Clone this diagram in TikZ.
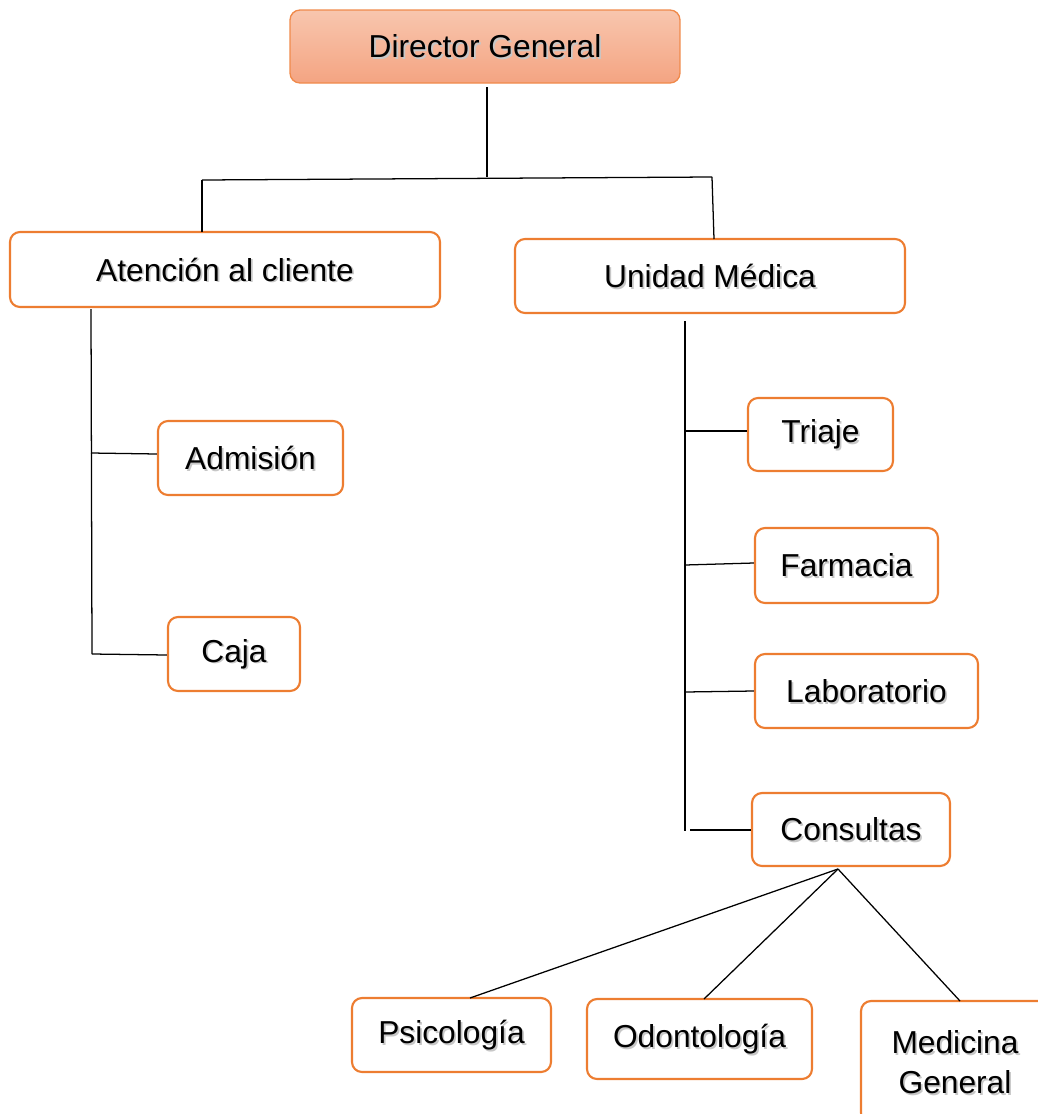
\documentclass[tikz,border=0pt]{standalone}
\usepackage{fontspec}
\setmainfont{Liberation Sans}
\usetikzlibrary{calc}
\definecolor{boxline}{HTML}{ED7D31}
\definecolor{headline}{HTML}{F08A4B}
\definecolor{headtop}{HTML}{F8C6AE}
\definecolor{headbot}{HTML}{F4A482}
\tikzset{
  % rounded box with a soft shadow behind its label
  unit/.style={draw=boxline, line width=1.6pt, rounded corners=7.5pt, fill=white,
    inner sep=0pt, align=center, font=\fontsize{23.8}{30}\selectfont,
    node contents={#1},
    path picture={\node[text=black!22, align=center, font=\fontsize{23.8}{30}\selectfont]
      at ([shift={(1.3pt,-1.3pt)}]path picture bounding box.center) {#1};}},
  head/.style={unit={#1}, draw=headline, line width=1pt,
    top color=headtop, bottom color=headbot},
  link/.style={line width=0.95pt, black},
}
\begin{document}
\begin{tikzpicture}[x=0.75pt, y=-0.75pt]
\useasboundingbox (0,0) rectangle (1038,1114);

% boxes
\node (dg)  at (485,46.5)  [head={Director General}, minimum width=390*0.75pt, minimum height=73*0.75pt];
\node (ac)  at (225,269.5) [unit={Atención al cliente}, minimum width=430*0.75pt, minimum height=75*0.75pt];
\node (um)  at (710,276)   [unit={Unidad Médica}, minimum width=390*0.75pt, minimum height=74*0.75pt];
\node (adm) at (250.5,458) [unit={Admisión}, minimum width=185*0.75pt, minimum height=74*0.75pt];
\node (caj) at (234,654)   [unit={Caja}, minimum width=132*0.75pt, minimum height=74*0.75pt];
\node (tri) at (820.5,434.5) [unit={Triaje}, minimum width=145*0.75pt, minimum height=73*0.75pt];
\node (far) at (846.5,565.5) [unit={Farmacia}, minimum width=183*0.75pt, minimum height=75*0.75pt];
\node (lab) at (866.5,691) [unit={Laboratorio}, minimum width=223*0.75pt, minimum height=74*0.75pt];
\node (con) at (851,829.5) [unit={Consultas}, minimum width=198*0.75pt, minimum height=73*0.75pt];
\node (psi) at (451.5,1035) [unit={Psicología}, minimum width=199*0.75pt, minimum height=74*0.75pt];
\node (odo) at (699.5,1039) [unit={Odontología}, minimum width=225*0.75pt, minimum height=80*0.75pt];
\node (med) at (955,1062)  [unit={Medicina\\General}, minimum width=188*0.75pt, minimum height=122*0.75pt];

% joints of the connectors
\coordinate (dgB) at (487,87);
\coordinate (dgJ) at (487,177);
\coordinate (hL) at (202,180);
\coordinate (hR) at (712,177);
\coordinate (acT) at (202,232);
\coordinate (umT) at (714,239);
\coordinate (acS) at (91,309);
\coordinate (acE) at (92,654);
\coordinate (umS) at (685,321);
\coordinate (umE) at (685,831);
\coordinate (cB) at (838,869);

% director to the two areas
\draw[link] (dgB) -- (dgJ);
\draw[link] (hL) -- (hR);
\draw[link] (hL) -- (acT);
\draw[link] (hR) -- (umT);

% customer service branch
\draw[link] (acS) -- (acE);
\draw[link] (91,453) -- (adm.west |- 0,454);
\draw[link] (acE) -- (caj.west |- 0,655);

% medical unit branch
\draw[link] (umS) -- (umE);
\draw[link] (685,431) -- (tri.west |- 0,431);
\draw[link] (685,565) -- (far.west |- 0,563);
\draw[link] (685,692) -- (lab.west |- 0,691);
\draw[link] (690,830) -- (con.west |- 0,830);

% consultations to the specialties
\draw[link] (cB) -- (470,998);
\draw[link] (cB) -- (704,999);
\draw[link] (cB) -- (960,1001);
\end{tikzpicture}
\end{document}
